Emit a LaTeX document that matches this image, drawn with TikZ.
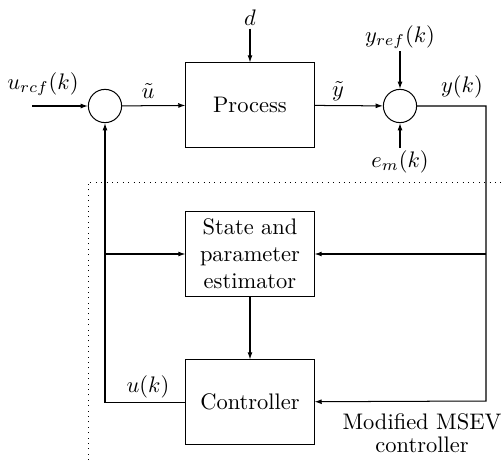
\documentclass[tikz,border=0pt]{standalone}
\usetikzlibrary{arrows.meta,calc}

\begin{document}
\begin{tikzpicture}[
    x=0.445pt, y=-0.445pt,
    font=\normalsize,
    >={Latex[length=3.2pt,width=2.2pt]},
    block/.style={draw, line width=0.45pt, align=center, minimum width=57pt,
                  minimum height=37.4pt, inner sep=2pt},
    sum/.style={draw, line width=0.45pt, circle, minimum size=14.8pt, inner sep=0pt},
    flow/.style={->, line width=0.45pt},
    lbl/.style={inner sep=1pt},
]
\useasboundingbox (0,0) rectangle (502,460);

% ---- Plant loop ---------------------------------------------------
\node[sum] (sum1) at (105,106) {};
\node[block] (proc) at (250,105) {Process};
\node[sum] (sum2) at (400,106) {};

% ---- Controller internals -----------------------------------------
\node[block] (est) at (250,254) {State and\\parameter\\estimator};
\node[block] (ctrl) at (250,402) {Controller};

% ---- Signal labels ------------------------------------------------
\node[lbl] (uref) at (43,84) {$u_{rcf}(k)$};
\node[lbl] at (148,91) {$\tilde{u}$};
\node[lbl] (dist) at (250,18) {$d$};
\node[lbl] at (338,91) {$\tilde{y}$};
\node[lbl] (yref) at (400,37) {$y_{ref}(k)$};
\node[lbl] (em) at (400,162) {$e_m(k)$};
\node[lbl] at (462,87) {$y(k)$};
\node[lbl] at (148,387) {$u(k)$};
\node[align=center, lbl] (msev) at (422,433) {Modified MSEV\\[-2pt]controller};

\coordinate (uin) at (32,106);
\coordinate (ybot) at (486,401);
\coordinate (ubot) at (105,402);

% ---- Edges --------------------------------------------------------
\draw[flow] (uin) -- (sum1);
\draw[flow] (sum1) -- (proc);
\draw[flow] (dist) -- (proc);
\draw[flow] (proc) -- (sum2);
\draw[flow] (yref) -- (sum2);
\draw[flow] (em) -- (sum2);

\draw[flow] (sum2) -| (ybot) -- (ctrl);
\draw[flow] (ybot |- est) -- (est);
\draw[flow] (ctrl) -- (ubot) -- (sum1);
\draw[flow] (ubot |- est) -- (est);
\draw[flow] (est) -- (ctrl);

% ---- Controller frame ---------------------------------------------
\draw[dotted, line width=0.4pt] (88,460) -- (88,182) -- (502,182);

\end{tikzpicture}
\end{document}
